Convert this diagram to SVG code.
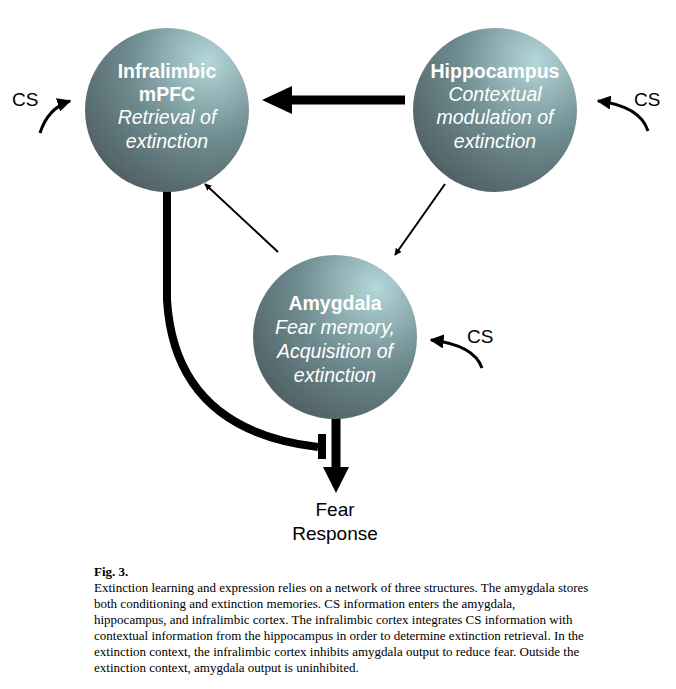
<svg xmlns="http://www.w3.org/2000/svg" width="676" height="689" viewBox="0 0 676 689">
<defs>
<radialGradient id="g" cx="0.75" cy="0.2" r="0.95">
<stop offset="0" stop-color="#b5d8da"/><stop offset="0.5" stop-color="#6f8c90"/><stop offset="1" stop-color="#4c5b5e"/>
</radialGradient>
<marker id="ah" viewBox="0 0 10 10" refX="9" refY="5" markerWidth="7" markerHeight="7" orient="auto" markerUnits="userSpaceOnUse"><path d="M0,0L10,5L0,10z" fill="#000"/></marker>
<marker id="ahs" viewBox="0 0 10 10" refX="9" refY="5" markerWidth="14" markerHeight="14" orient="auto" markerUnits="userSpaceOnUse"><path d="M0,0L10,5L0,10z" fill="#000"/></marker>
</defs>
<style>
.t{font-family:"Liberation Sans",Arial,sans-serif;fill:#fff;font-size:19.5px;text-anchor:middle}
.b{font-weight:bold}.i{font-style:italic}
.k{font-family:"Liberation Sans",Arial,sans-serif;fill:#000;font-size:19px}
.c{font-family:"Liberation Serif","Times New Roman",serif;font-size:13px;fill:#000}
.ln{fill:none;stroke:#000}
</style>
<rect width="676" height="689" fill="#fff"/>
<g id="connectors">
<line class="ln" x1="405" y1="100" x2="290" y2="100" stroke-width="9"/>
<path d="M292,86L262,100L292,114z"/>
<line class="ln" x1="278" y1="252" x2="205" y2="184" stroke-width="2" marker-end="url(#ah)"/>
<line class="ln" x1="445" y1="184" x2="395" y2="255" stroke-width="2" marker-end="url(#ah)"/>
<path class="ln" d="M167,185 L167,300 Q175,430 318,447" stroke-width="8"/>
<line class="ln" x1="322" y1="434" x2="322" y2="459" stroke-width="8"/>
<line class="ln" x1="336" y1="418" x2="336" y2="470" stroke-width="9"/>
<path d="M323,467L349,467L336,493z"/>
<path class="ln" d="M40,133 Q48,108 70,101" stroke-width="3" marker-end="url(#ahs)"/>
<path class="ln" d="M648,131 Q640,106 598,101" stroke-width="3" marker-end="url(#ahs)"/>
<path class="ln" d="M482,368 Q474,345 431,340" stroke-width="3" marker-end="url(#ahs)"/>
</g>
<g id="infralimbic">
<circle cx="167" cy="110" r="82" fill="url(#g)"/>
<text class="t b" x="167" y="78">Infralimbic</text>
<text class="t b" x="167" y="101">mPFC</text>
<text class="t i" x="167" y="124">Retrieval of</text>
<text class="t i" x="167" y="148">extinction</text>
</g>
<g id="hippocampus">
<circle cx="495" cy="110" r="82" fill="url(#g)"/>
<text class="t b" x="495" y="78">Hippocampus</text>
<text class="t i" x="495" y="101">Contextual</text>
<text class="t i" x="495" y="124">modulation of</text>
<text class="t i" x="495" y="148">extinction</text>
</g>
<g id="amygdala">
<circle cx="335" cy="337" r="82" fill="url(#g)"/>
<text class="t b" x="335" y="310">Amygdala</text>
<text class="t i" x="335" y="334">Fear memory,</text>
<text class="t i" x="335" y="358">Acquisition of</text>
<text class="t i" x="335" y="382">extinction</text>
</g>
<g id="labels">
<text class="k" x="12" y="106">CS</text>
<text class="k" x="634" y="106">CS</text>
<text class="k" x="467" y="343">CS</text>
<text class="k" x="335" y="516" text-anchor="middle">Fear</text>
<text class="k" x="335" y="540" text-anchor="middle">Response</text>
</g>
<g id="caption">
<text class="c" x="94" y="576" font-weight="bold">Fig. 3.</text>
<text class="c" x="94" y="592">Extinction learning and expression relies on a network of three structures. The amygdala stores</text>
<text class="c" x="94" y="608">both conditioning and extinction memories. CS information enters the amygdala,</text>
<text class="c" x="94" y="624">hippocampus, and infralimbic cortex. The infralimbic cortex integrates CS information with</text>
<text class="c" x="94" y="640">contextual information from the hippocampus in order to determine extinction retrieval. In the</text>
<text class="c" x="94" y="656">extinction context, the infralimbic cortex inhibits amygdala output to reduce fear. Outside the</text>
<text class="c" x="94" y="672">extinction context, amygdala output is uninhibited.</text>
</g>
</svg>
